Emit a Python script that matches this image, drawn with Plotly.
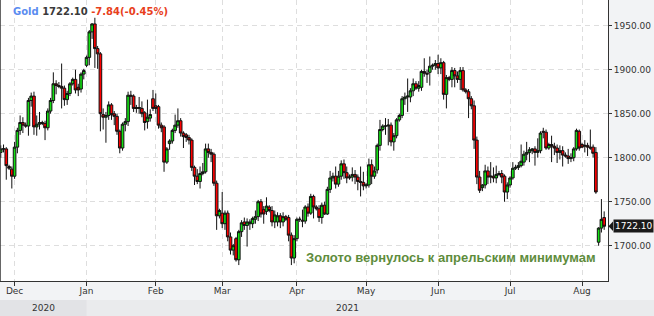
import pandas as pd
import plotly.graph_objects as go

# ---- trading days (Sun-Fri sessions, holidays removed) ----
holidays = ["2020-12-25", "2021-01-01", "2021-04-02"]
dates = [d.strftime("%Y-%m-%d") for d in pd.date_range("2020-11-25", "2021-08-10")
         if d.weekday() != 5 and d.strftime("%Y-%m-%d") not in holidays]

opens = [
    1806, 1810, 1810,
    1790, 1787, 1779, 1812, 1831, 1840,
    1837, 1836, 1865, 1870, 1835, 1838,
    1840, 1839, 1834, 1853, 1865, 1884,
    1882, 1881, 1879, 1866, 1873,
    1884, 1889, 1880, 1878, 1895,
    1905, 1914, 1943, 1952, 1924, 1918,
    1849, 1846, 1848, 1860, 1850, 1847,
    1830, 1811, 1838, 1841, 1871, 1870,
    1857, 1856, 1856, 1851, 1841, 1845,
    1867, 1859, 1858, 1837, 1835, 1795,
    1816, 1819, 1831, 1837, 1842, 1828,
    1826, 1823, 1820, 1789, 1779, 1773,
    1782, 1784, 1810, 1806, 1804, 1771,
    1734, 1737, 1725, 1737, 1710, 1695,
    1708, 1684, 1716, 1727, 1723, 1725,
    1725, 1730, 1733, 1750, 1741, 1739,
    1744, 1740, 1727, 1727, 1734, 1727,
    1733, 1732, 1712, 1686, 1708,
    1730, 1729, 1728, 1744, 1737, 1756,
    1744, 1742, 1732, 1746, 1736, 1764,
    1777, 1779, 1770, 1779, 1793, 1783,
    1777, 1778, 1781, 1778, 1773, 1772,
    1768, 1769, 1792, 1779, 1786, 1814,
    1832, 1836, 1836, 1837, 1818, 1825,
    1843, 1848, 1867, 1869, 1869, 1876,
    1884, 1879, 1880, 1898, 1896, 1897,
    1904, 1905, 1907, 1902, 1908, 1872,
    1891, 1889, 1899, 1893, 1889, 1899,
    1877, 1875, 1867, 1859, 1820, 1778,
    1766, 1769, 1785, 1778, 1779, 1777,
    1781, 1782, 1779, 1761, 1769, 1777,
    1788, 1789, 1791, 1795, 1804, 1806,
    1808, 1810, 1806, 1808, 1830, 1829,
    1811, 1815, 1813, 1811, 1806, 1808,
    1803, 1802, 1799, 1800, 1810, 1830,
    1815, 1813, 1814, 1812, 1812, 1806,
    1704, 1720, 1732,
]
highs = [
    1814, 1815, 1812,
    1792, 1790, 1818, 1834, 1848, 1846,
    1840, 1868, 1874, 1875, 1848, 1852,
    1842, 1842, 1856, 1868, 1897, 1888,
    1886, 1907, 1882, 1876, 1886,
    1891, 1900, 1884, 1897, 1901,
    1916, 1945, 1953, 1959, 1927, 1920,
    1856, 1852, 1864, 1862, 1853, 1850,
    1832, 1840, 1845, 1875, 1876, 1872,
    1860, 1869, 1864, 1853, 1866, 1855,
    1877, 1873, 1860, 1840, 1837, 1812,
    1821, 1833, 1849, 1856, 1845, 1830,
    1828, 1826, 1822, 1791, 1787, 1790,
    1794, 1816, 1816, 1810, 1806, 1774,
    1742, 1761, 1740, 1740, 1715, 1702,
    1710, 1718, 1729, 1732, 1731, 1730,
    1733, 1740, 1752, 1753, 1745, 1755,
    1746, 1745, 1740, 1738, 1737, 1738,
    1735, 1735, 1715, 1712, 1732,
    1733, 1741, 1746, 1748, 1759, 1758,
    1746, 1746, 1749, 1750, 1767, 1785,
    1783, 1790, 1785, 1797, 1798, 1790,
    1781, 1789, 1786, 1781, 1790, 1784,
    1771, 1799, 1798, 1790, 1816, 1843,
    1838, 1845, 1844, 1840, 1828, 1845,
    1850, 1870, 1874, 1890, 1879, 1890,
    1887, 1887, 1900, 1913, 1900, 1915,
    1907, 1911, 1917, 1913, 1910, 1894,
    1893, 1903, 1902, 1898, 1903, 1903,
    1879, 1878, 1870, 1865, 1824, 1785,
    1770, 1792, 1790, 1795, 1789, 1791,
    1785, 1786, 1781, 1772, 1779, 1795,
    1792, 1795, 1815, 1808, 1818, 1812,
    1811, 1813, 1822, 1830, 1834, 1832,
    1817, 1825, 1817, 1815, 1814, 1813,
    1806, 1810, 1805, 1812, 1833, 1832,
    1817, 1820, 1817, 1832, 1815, 1812,
    1721, 1753, 1739,
]
lows = [
    1800, 1806, 1775,
    1786, 1765, 1776, 1805, 1826, 1828,
    1834, 1825, 1858, 1826, 1825, 1832,
    1837, 1820, 1831, 1850, 1862, 1872,
    1879, 1856, 1859, 1860, 1870,
    1882, 1873, 1870, 1874, 1889,
    1903, 1905, 1935, 1902, 1901, 1830,
    1832, 1817, 1843, 1843, 1837, 1826,
    1805, 1808, 1830, 1836, 1860, 1852,
    1851, 1850, 1846, 1831, 1833, 1841,
    1853, 1850, 1833, 1829, 1784, 1793,
    1809, 1816, 1828, 1834, 1824, 1811,
    1818, 1815, 1785, 1769, 1770, 1765,
    1780, 1782, 1800, 1795, 1768, 1718,
    1731, 1720, 1718, 1705, 1690, 1689,
    1682, 1678, 1710, 1718, 1699, 1718,
    1720, 1725, 1728, 1732, 1725, 1735,
    1738, 1722, 1720, 1722, 1720, 1722,
    1728, 1705, 1678, 1680, 1705,
    1727, 1721, 1725, 1733, 1735, 1731,
    1740, 1727, 1725, 1735, 1735, 1760,
    1773, 1765, 1767, 1775, 1776, 1771,
    1775, 1773, 1770, 1763, 1756, 1763,
    1765, 1766, 1770, 1776, 1782, 1808,
    1830, 1826, 1814, 1813, 1808, 1822,
    1841, 1845, 1860, 1852, 1863, 1870,
    1877, 1875, 1876, 1892, 1885, 1882,
    1900, 1900, 1895, 1895, 1866, 1856,
    1887, 1880, 1880, 1885, 1877, 1875,
    1873, 1845, 1855, 1810, 1770, 1760,
    1762, 1765, 1770, 1771, 1772, 1771,
    1779, 1771, 1750, 1753, 1766, 1775,
    1786, 1786, 1789, 1791, 1797, 1795,
    1804, 1791, 1800, 1805, 1822, 1809,
    1809, 1795, 1803, 1794, 1798, 1790,
    1800, 1793, 1795, 1796, 1808, 1808,
    1811, 1806, 1802, 1809, 1800, 1759,
    1700, 1715, 1718,
]
closes = [
    1810, 1810, 1791,
    1788, 1779, 1812, 1831, 1840, 1837,
    1836, 1865, 1870, 1835, 1838, 1840,
    1839, 1834, 1853, 1865, 1884, 1882,
    1881, 1879, 1866, 1873, 1884,
    1889, 1877, 1877, 1895, 1899,
    1914, 1943, 1952, 1924, 1918, 1850,
    1846, 1848, 1860, 1849, 1847, 1830,
    1811, 1838, 1841, 1871, 1870, 1856,
    1856, 1857, 1850, 1840, 1846, 1849,
    1856, 1856, 1837, 1834, 1795, 1810,
    1819, 1831, 1837, 1842, 1828, 1824,
    1823, 1820, 1789, 1779, 1773, 1782,
    1784, 1810, 1806, 1804, 1771, 1734,
    1740, 1725, 1737, 1710, 1695, 1700,
    1684, 1716, 1726, 1723, 1727, 1727,
    1731, 1733, 1750, 1736, 1736, 1745,
    1740, 1727, 1735, 1734, 1727, 1733,
    1730, 1712, 1686, 1708, 1730,
    1730, 1728, 1744, 1737, 1756, 1744,
    1742, 1732, 1746, 1736, 1764, 1777,
    1779, 1770, 1779, 1793, 1783, 1777,
    1778, 1781, 1778, 1773, 1772, 1768,
    1769, 1792, 1779, 1785, 1814, 1832,
    1836, 1836, 1837, 1818, 1825, 1843,
    1848, 1867, 1869, 1870, 1876, 1884,
    1879, 1882, 1898, 1896, 1895, 1904,
    1905, 1907, 1902, 1908, 1872, 1891,
    1889, 1899, 1893, 1889, 1899, 1877,
    1875, 1867, 1859, 1820, 1778, 1763,
    1769, 1785, 1778, 1779, 1777, 1781,
    1782, 1778, 1761, 1769, 1777, 1788,
    1789, 1791, 1796, 1804, 1806, 1809,
    1810, 1806, 1808, 1828, 1829, 1811,
    1815, 1813, 1811, 1806, 1808, 1803,
    1802, 1799, 1800, 1810, 1831, 1811,
    1812, 1814, 1812, 1811, 1805, 1761,
    1720, 1729.94, 1722.10,
]
assert len(dates) == len(opens) == len(highs) == len(lows) == len(closes), (
    len(dates), len(opens), len(highs), len(lows), len(closes))

month_ticks = ["2020-12-01", "2021-01-03", "2021-02-01", "2021-03-01", "2021-04-01",
               "2021-05-02", "2021-06-01", "2021-07-01", "2021-08-01"]
month_labels = ["Dec", "Jan", "Feb", "Mar", "Apr", "May", "Jun", "Jul", "Aug"]
price_ticks = [1700, 1750, 1800, 1850, 1900, 1950]
years = ["2020", "2021"]

last_price = closes[-1]
change = closes[-1] - closes[-2]
change_pct = change / closes[-2] * 100

W, H = 654, 316
ML, MR, MT, MB = 0, 46, 0, 35
PW, PH = W - ML - MR, H - MT - MB

fig = go.Figure(go.Candlestick(
    x=dates, open=opens, high=highs, low=lows, close=closes,
    increasing=dict(line=dict(color="#111111", width=1), fillcolor="#14e014"),
    decreasing=dict(line=dict(color="#111111", width=1), fillcolor="#ff0000"),
    whiskerwidth=0, showlegend=False, hoverinfo="skip",
))

jan_idx = dates.index("2021-01-03")
x_lo, x_hi = -0.27, 219.38

def px_to_py(y):  # pixel y (from top) -> paper y
    return 1 - (y - MT) / PH

def px_to_px(x):
    return (x - ML) / PW

shapes = [
    # year band
    dict(type="rect", xref="paper", yref="paper", x0=px_to_px(0), x1=px_to_px(W),
         y0=px_to_py(300), y1=px_to_py(H + 2), fillcolor="#eaebed", line=dict(width=0), layer="below"),
    dict(type="rect", xref="x", yref="paper", x0=x_lo, x1=jan_idx,
         y0=px_to_py(300), y1=px_to_py(H + 2), fillcolor="#e2e3e6", line=dict(width=0), layer="below"),
    # left border
    dict(type="line", xref="paper", yref="paper", x0=0, x1=0, y0=0, y1=1,
         line=dict(color="#333333", width=1.5)),
    # price tag arrow
    dict(type="path", xref="paper", yref="y",
         path=f"M {px_to_px(608.5)},{last_price} L {px_to_px(613)},{last_price + 5.5} "
              f"L {px_to_px(613)},{last_price - 5.5} Z",
         fillcolor="#1a1a1a", line=dict(width=0)),
]

annotations = [
    dict(xref="paper", yref="paper", x=px_to_px(11), y=px_to_py(12), xanchor="left", yanchor="middle",
         showarrow=False,
         text=(f"<b><span style='color:#5b8cf0'>Gold</span> "
               f"<span style='color:#3a3a3a'>{last_price:.2f}</span> "
               f"<span style='color:#e8401c'>{change:.2f}({change_pct:.2f}%)</span></b>"),
         font=dict(family="DejaVu Sans", size=10)),
    dict(xref="paper", yref="paper", x=px_to_px(598), y=px_to_py(257), xanchor="right", yanchor="middle",
         showarrow=False, text="<b>Золото вернулось к апрельским минимумам</b>",
         font=dict(family="Liberation Sans", size=13, color="#5e8c3c")),
    dict(xref="paper", yref="y", x=px_to_px(613), y=last_price, xanchor="left", yanchor="middle",
         showarrow=False, text=f"{last_price:.2f}", bgcolor="#1a1a1a", borderpad=1,
         font=dict(family="DejaVu Sans", size=9, color="#ffffff")),
    dict(xref="x", yref="paper", x=(x_lo + jan_idx) / 2, y=px_to_py(308), xanchor="center",
         yanchor="middle", showarrow=False, text=years[0],
         font=dict(family="DejaVu Sans", size=9, color="#333333")),
    dict(xref="x", yref="paper", x=(jan_idx + x_hi) / 2, y=px_to_py(308), xanchor="center",
         yanchor="middle", showarrow=False, text=years[1],
         font=dict(family="DejaVu Sans", size=9, color="#333333")),
]

fig.update_layout(
    width=W, height=H, margin=dict(l=ML, r=MR, t=MT, b=MB, pad=0),
    paper_bgcolor="#f2f3f5", plot_bgcolor="#ffffff",
    boxgap=0.05, boxgroupgap=0,
    shapes=shapes, annotations=annotations,
    xaxis=dict(type="category", range=[x_lo, x_hi], rangeslider=dict(visible=False),
               tickmode="array", tickvals=month_ticks, ticktext=month_labels,
               showgrid=True, gridcolor="#dedede", griddash="5px,4px", gridwidth=1,
               showline=True, linecolor="#333333", linewidth=1,
               ticks="outside", ticklen=4, tickcolor="#333333", ticklabelstandoff=-3,
               tickfont=dict(family="DejaVu Sans", size=9, color="#333333"),
               fixedrange=True),
    yaxis=dict(side="right", range=[1659.9, 1979.2], tickmode="array", tickvals=price_ticks,
               tickformat=".2f",
               showgrid=True, gridcolor="#dedede", griddash="5px,4px", gridwidth=1,
               showline=True, linecolor="#333333", linewidth=1,
               ticks="outside", ticklen=3, tickcolor="#333333",
               tickfont=dict(family="DejaVu Sans", size=9, color="#333333"),
               zeroline=False, fixedrange=True),
)

fig.write_html("out.html")
